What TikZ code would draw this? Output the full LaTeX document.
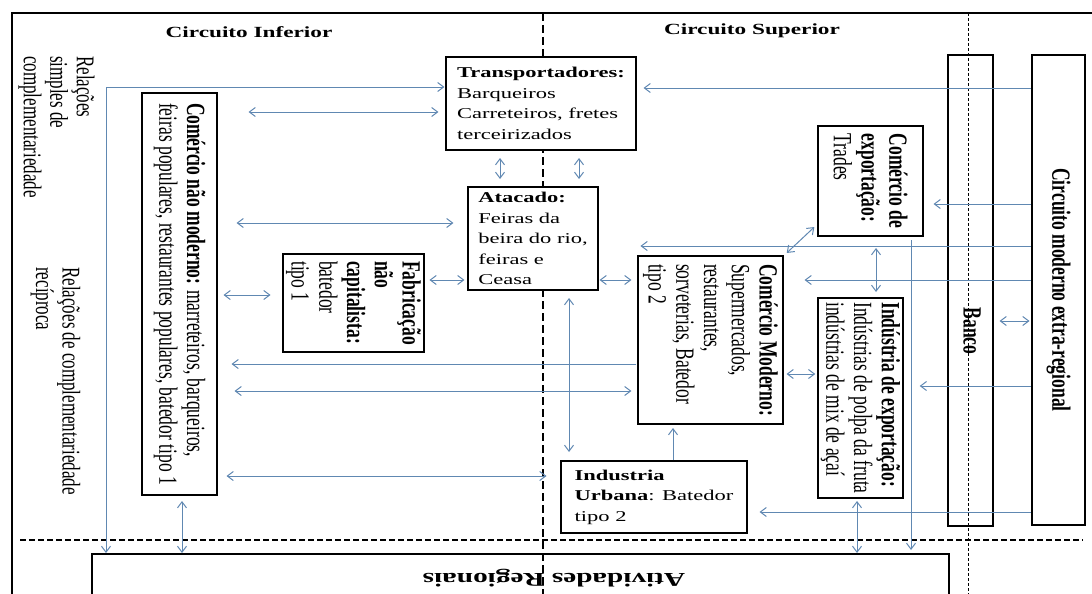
\documentclass[tikz,border=0pt]{standalone}
\usepackage{fontspec}
\setmainfont{Liberation Serif}
\usepackage{xcolor}
\usepackage{tikz}
\usetikzlibrary{arrows.meta}
\definecolor{linkblue}{RGB}{96,136,178}

\begin{document}
\begin{tikzpicture}[x=1pt,y=-1pt,
  box/.style={draw,line width=2pt,fill=white,inner sep=2pt,align=left,xscale=1.5},
  hbox/.style={box,font=\fontsize{15}{20.5}\selectfont},
  vbox/.style={box,rotate=-90,font=\fontsize{17.5}{18.5}\selectfont},
  vtext/.style={xscale=1.5,rotate=-90,align=left,font=\fontsize{17}{17.7}\selectfont},
  title/.style={xscale=1.5,font=\fontsize{15.5}{18}\selectfont\bfseries},
  arr/.style={draw=linkblue,line width=1pt,>={Straight Barb[length=6pt,width=9pt]}},
  ldash/.style={line width=1.2pt,dash pattern=on 6pt off 3pt}]
\path[use as bounding box,clip] (0,0) rectangle (1092,594);
\draw[line width=2pt] (12,600) -- (12,13) -- (1100,13);
\draw[line width=2.6pt,dash pattern=on 8pt off 4pt] (543,13) -- (543,600);

\node[title] (inf) at (249,32) {Circuito Inferior};
\node[title] (sup) at (752,31) {Circuito Superior};
\node[vtext] (rel1) at (56.5,127) {Relações\\simples de\\complementariedade};
\node[vtext] (rel2) at (55.5,381) {Relações de complementariedade\\recíproca};

\node[hbox,minimum width=126.7,minimum height=93] (trans) at (541,103.5) {\textbf{Transportadores:}\\Barqueiros\\Carreteiros, fretes\\terceirizados};
\node[hbox,minimum width=86.7,minimum height=103] (atac) at (533,238.5) {\textbf{Atacado:}\\Feiras da\\beira do rio,\\feiras e\\Ceasa};
\node[hbox,minimum width=124,minimum height=72] (iurb) at (654,497) {\textbf{Industria}\\\textbf{Urbana}: Batedor\\tipo 2};
\node[vbox,minimum width=402,minimum height=50] (cnm) at (179.5,294) {\textbf{Comércio não moderno:} marreteiros, barqueiros,\\feiras populares, restaurantes populares, batedor tipo 1};
\node[vbox,minimum width=98,minimum height=92.7] (fab) at (353.5,303) {\textbf{Fabricação}\\\textbf{não}\\\textbf{capitalista:}\\batedor\\tipo 1};
\node[vbox,minimum width=110,minimum height=70] (cexp) at (870.5,181) {\textbf{Comércio de}\\\textbf{exportação:}\\Trades};
\node[vbox,minimum width=168,minimum height=96.7] (cmod) at (710.5,340) {\textbf{Comércio Moderno:}\\Supermercados,\\restaurantes,\\sorveterias, Batedor\\tipo 2};
\node[vbox,minimum width=200,minimum height=56.7] (iexp) at (860.5,398) {\textbf{Indústria de exportação:}\\Indústrias de polpa da fruta\\indústrias de mix de açaí};
\node[vbox,minimum width=471,minimum height=30] (banco) at (970.5,290.5) {};
\node[vbox,minimum width=470,minimum height=35.3,font=\fontsize{17.5}{18.5}\selectfont\bfseries] (cmer) at (1058.5,290) {Circuito moderno extra-regional};
\node[hbox,fill=none,minimum width=571.3,minimum height=80,anchor=north] (ativ) at (520.5,553) {};
\node[xscale=1.5,rotate=180,font=\fontsize{19.5}{22}\selectfont\bfseries] (ativ-t) at (554,578) {Atividades Regionais};
\node[vtext,font=\fontsize{17.5}{18.5}\selectfont\bfseries] (banco-t) at (972,331) {Banco};

\draw[line width=0.9pt,dash pattern=on 3pt off 2pt] (968,13) -- (968,600);
\draw[ldash] (20,540) -- (1083,540);

\draw[arr,<->] (trans.west |- 0,87) -| (ativ.north -| 106,0);
\draw[arr,<->,shorten <=30pt,shorten >=6pt] (cnm.north |- 0,112) -- (trans.west |- 0,112);
\draw[arr,<->,shorten <=18pt,shorten >=13pt] (cnm.north |- 0,223) -- (atac.west |- 0,223);
\draw[arr,<->,shorten <=5pt,shorten >=11pt] (cnm.north |- 0,295) -- (fab.south |- 0,295);
\draw[arr,<->,shorten <=4pt,shorten >=2pt] (fab.north |- 0,280) -- (atac.west |- 0,280);
\draw[arr,->,shorten >=13pt] (cmod.south |- 0,364) -- (cnm.north |- 0,364);
\draw[arr,<->,shorten <=16pt,shorten >=5pt] (cnm.north |- 0,391) -- (cmod.south |- 0,391);
\draw[arr,<->,shorten <=8pt,shorten >=13pt] (cnm.north |- 0,476) -- (iurb.west |- 0,476);
\draw[arr,<->,shorten <=5pt] (cnm.east -| 182,0) -- (ativ.north -| 182,0);
\draw[arr,<->,shorten <=7pt,shorten >=7pt] (trans.south -| 500,0) -- (atac.north -| 500,0);
\draw[arr,<->,shorten <=7pt,shorten >=7pt] (trans.south -| 579,0) -- (atac.north -| 579,0);
\draw[arr,<->,shorten <=7pt,shorten >=8pt] (atac.south -| 569,0) -- (iurb.north -| 569,0);
\draw[arr,<->,shorten >=5pt] (atac.east |- 0,280) -- (cmod.south |- 0,280);
\draw[arr,->,shorten >=3pt] (iurb.north -| 673,0) -- (cmod.east -| 673,0);
\draw[arr,<->,shorten <=2pt,shorten >=1pt] (cmod.north |- 0,374) -- (iexp.south |- 0,374);
\draw[arr,<->,shorten <=3pt,shorten >=3pt] (cexp.south |- 0,225) -- (cmod.north west);
\draw[arr,->,shorten >=4pt] (cmer.south |- 0,246) -- (cmod.south |- 0,246);
\draw[arr,->,shorten >=20pt] (cmer.south |- 0,280) -- (cmod.north |- 0,280);
\draw[arr,->,shorten >=9pt] (cmer.south |- 0,204) -- (cexp.north |- 0,204);
\draw[arr,->,shorten >=6pt] (cmer.south |- 0,88) -- (trans.east |- 0,88);
\draw[arr,<->,shorten <=11pt,shorten >=5pt] (cexp.east -| 876,0) -- (iexp.west -| 876,0);
\draw[arr,->,shorten <=3pt,shorten >=3pt] (cexp.east -| 911,0) -- (ativ.north -| 911,0);
\draw[arr,<->,shorten <=2pt] (iexp.east -| 857,0) -- (ativ.north -| 857,0);
\draw[arr,->,shorten >=15pt] (cmer.south |- 0,386) -- (iexp.north |- 0,386);
\draw[arr,->,shorten >=11pt] (cmer.south |- 0,512) -- (iurb.east |- 0,512);
\draw[arr,<->,shorten <=5pt,shorten >=1pt] (banco.north |- 0,321) -- (cmer.south |- 0,321);
\end{tikzpicture}
\end{document}
